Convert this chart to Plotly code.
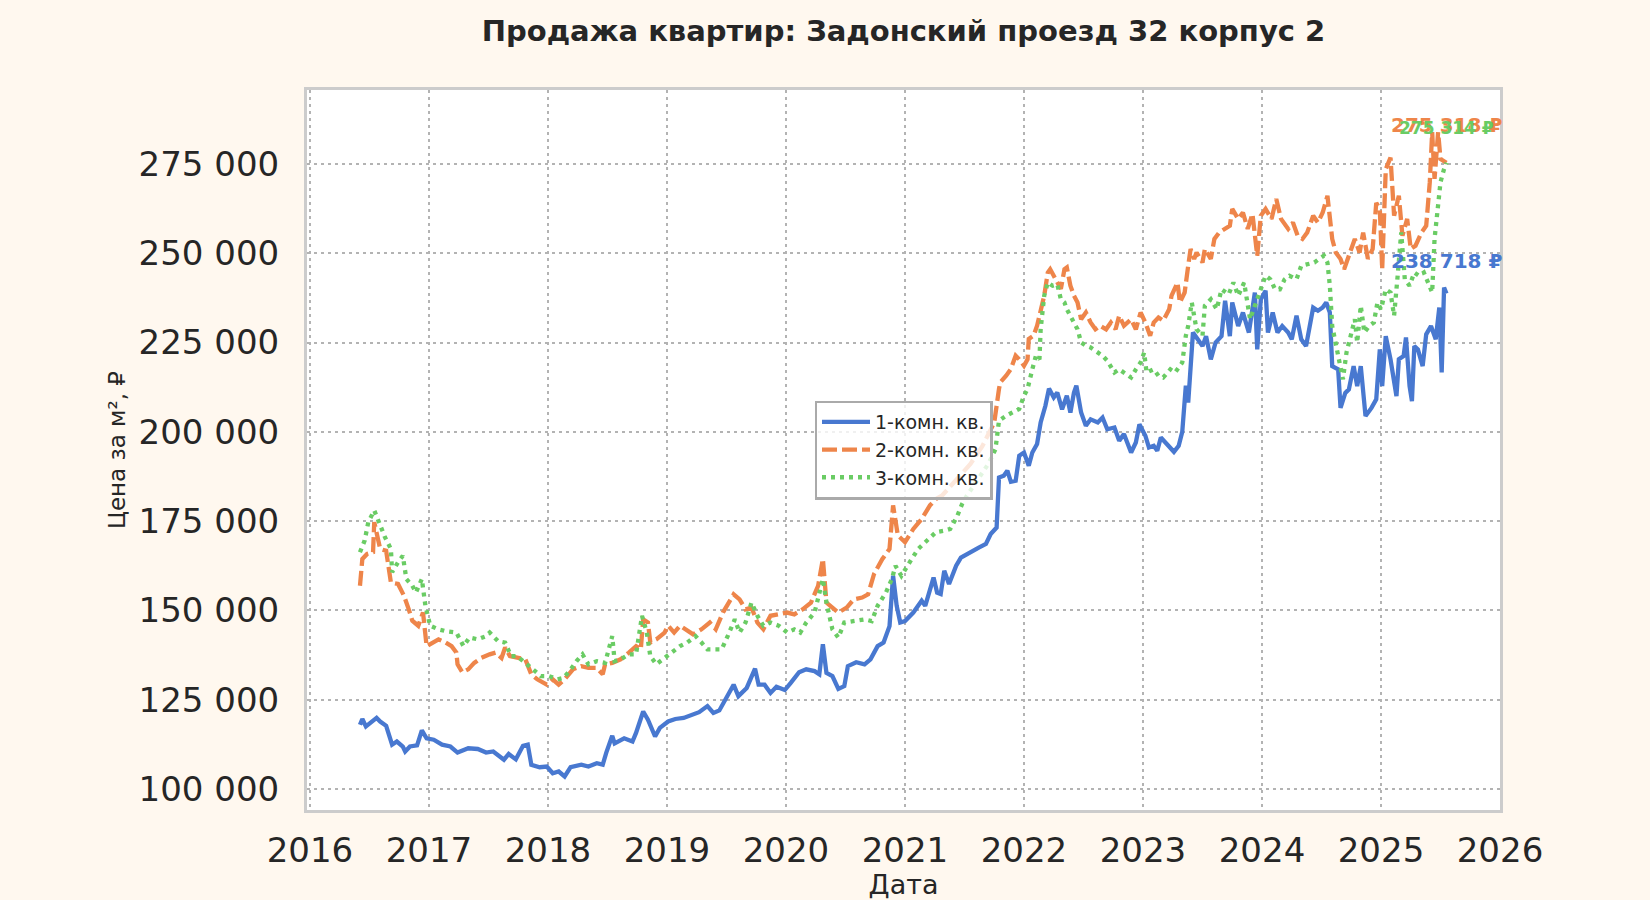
import plotly.graph_objects as go

# ---------------- data (decimal years, price per m²) ----------------
series_names = ["1-комн. кв.", "2-комн. кв.", "3-комн. кв."]

x1 = [2016.42, 2016.44, 2016.47, 2016.51, 2016.56, 2016.59, 2016.64, 2016.69, 2016.73, 2016.78,
      2016.80, 2016.84, 2016.90, 2016.94, 2016.98, 2017.04, 2017.11, 2017.18, 2017.24, 2017.33,
      2017.41, 2017.48, 2017.54, 2017.63, 2017.67, 2017.73, 2017.79, 2017.83, 2017.86, 2017.93,
      2017.99, 2018.04, 2018.09, 2018.14, 2018.19, 2018.28, 2018.34, 2018.41, 2018.46, 2018.49,
      2018.54, 2018.56, 2018.64, 2018.71, 2018.74, 2018.80, 2018.84, 2018.90, 2018.94, 2019.01,
      2019.07, 2019.14, 2019.22, 2019.27, 2019.34, 2019.39, 2019.44, 2019.49, 2019.56, 2019.60,
      2019.67, 2019.74, 2019.77, 2019.82, 2019.87, 2019.92, 2019.99, 2020.04, 2020.11, 2020.17,
      2020.24, 2020.28, 2020.31, 2020.34, 2020.39, 2020.44, 2020.49, 2020.52, 2020.59, 2020.66,
      2020.71, 2020.77, 2020.82, 2020.87, 2020.90, 2020.93, 2020.96, 2021.00, 2021.07, 2021.14,
      2021.17, 2021.24, 2021.27, 2021.30, 2021.33, 2021.37, 2021.43, 2021.47, 2021.52, 2021.58,
      2021.62, 2021.68, 2021.72, 2021.77, 2021.79, 2021.83, 2021.86, 2021.89, 2021.93, 2021.96,
      2022.00, 2022.04, 2022.07, 2022.11, 2022.14, 2022.18, 2022.21, 2022.25, 2022.28, 2022.32,
      2022.36, 2022.39, 2022.42, 2022.44, 2022.48, 2022.52, 2022.56, 2022.62, 2022.66, 2022.70,
      2022.76, 2022.80, 2022.84, 2022.90, 2022.94, 2022.97, 2023.02, 2023.05, 2023.09, 2023.12,
      2023.15, 2023.20, 2023.26, 2023.30, 2023.33, 2023.36, 2023.38, 2023.42, 2023.46, 2023.50,
      2023.53, 2023.57, 2023.61, 2023.66, 2023.69, 2023.73, 2023.75, 2023.80, 2023.84, 2023.87,
      2023.89, 2023.94, 2023.96, 2023.99, 2024.03, 2024.05, 2024.09, 2024.13, 2024.17, 2024.22,
      2024.25, 2024.29, 2024.33, 2024.37, 2024.43, 2024.47, 2024.51, 2024.54, 2024.57, 2024.59,
      2024.64, 2024.66, 2024.70, 2024.73, 2024.77, 2024.80, 2024.83, 2024.87, 2024.92, 2024.96,
      2024.99, 2025.01, 2025.04, 2025.08, 2025.13, 2025.15, 2025.19, 2025.21, 2025.24, 2025.26,
      2025.28, 2025.31, 2025.35, 2025.38, 2025.42, 2025.46, 2025.49, 2025.51, 2025.53, 2025.55]
y1 = [118000, 119600, 117500, 118700, 119900, 118900, 117700, 112400, 113300, 111900,
      110500, 111900, 112200, 116400, 114200, 113800, 112400, 111900, 110200, 111400,
      111200, 110200, 110500, 108200, 109800, 108300, 112100, 112400, 106800, 106100,
      106300, 104400, 104900, 103500, 106100, 106800, 106300, 107200, 106800, 110200,
      114900, 112800, 114200, 113300, 115700, 121700, 119400, 114700, 117100, 118900,
      119600, 119900, 120800, 121500, 123200, 121300, 122000, 125200, 129200, 126000,
      128300, 133700, 129200, 129200, 126900, 128600, 127700, 129700, 132700, 133500,
      133000, 132100, 140500, 132500, 131600, 128000, 128800, 134400, 135500, 134900,
      136300, 140000, 141000, 145600, 159700, 151300, 146600, 147000, 149400, 152700,
      151300, 159200, 155000, 154600, 161100, 157400, 162500, 164800, 165800, 166700,
      167600, 168600, 171400, 173200, 187200, 187700, 189100, 186000, 186300, 193300,
      194200, 190500, 194200, 196600, 202600, 207300, 212100, 209600, 211000, 206300,
      210100, 205400, 211000, 212900, 205400, 201700, 203500, 202600, 204000, 200700,
      201200, 197500, 199400, 194200, 197000, 202100, 198900, 195600, 196100, 194700,
      198400, 196600, 194400, 196100, 200000, 212900, 208200, 227800, 225900, 224000,
      226800, 220300, 225000, 226800, 236700, 226800, 236200, 229600, 233400, 229600,
      227800, 239000, 223100, 237100, 239500, 227800, 233400, 227800, 229600, 227800,
      225900, 232500, 225900, 224000, 234800, 233900, 234800, 236200, 233400, 218400,
      217500, 206700, 210900, 211900, 218400, 212800, 218400, 204400, 206700, 209100,
      223100, 212800, 226800, 220300, 210000, 220300, 221200, 226400, 212800, 208600,
      224000, 223100, 218400, 227300, 229600, 225900, 234800, 216600, 240400, 238718]

x2 = [2016.42, 2016.44, 2016.48, 2016.53, 2016.54, 2016.56, 2016.59, 2016.64, 2016.68, 2016.74,
      2016.79, 2016.83, 2016.86, 2016.91, 2016.95, 2016.98, 2017.03, 2017.08, 2017.14, 2017.19,
      2017.23, 2017.24, 2017.28, 2017.33, 2017.38, 2017.44, 2017.51, 2017.56, 2017.61, 2017.64,
      2017.68, 2017.74, 2017.81, 2017.86, 2017.91, 2017.99, 2018.04, 2018.09, 2018.14, 2018.21,
      2018.28, 2018.34, 2018.41, 2018.46, 2018.48, 2018.54, 2018.61, 2018.68, 2018.74, 2018.78,
      2018.80, 2018.84, 2018.86, 2018.91, 2018.98, 2019.01, 2019.06, 2019.11, 2019.16, 2019.22,
      2019.29, 2019.36, 2019.41, 2019.47, 2019.56, 2019.61, 2019.66, 2019.71, 2019.76, 2019.81,
      2019.87, 2019.94, 2020.01, 2020.07, 2020.14, 2020.21, 2020.27, 2020.31, 2020.34, 2020.39,
      2020.44, 2020.51, 2020.57, 2020.64, 2020.69, 2020.74, 2020.81, 2020.87, 2020.90, 2020.94,
      2021.00, 2021.07, 2021.14, 2021.21, 2021.26, 2021.31, 2021.36, 2021.45, 2021.55, 2021.65,
      2021.75, 2021.79, 2021.80, 2021.85, 2021.89, 2021.93, 2021.96, 2022.00, 2022.03, 2022.04,
      2022.08, 2022.11, 2022.14, 2022.17, 2022.20, 2022.22, 2022.25, 2022.28, 2022.31, 2022.34,
      2022.36, 2022.39, 2022.42, 2022.45, 2022.48, 2022.52, 2022.56, 2022.60, 2022.64, 2022.69,
      2022.73, 2022.77, 2022.80, 2022.84, 2022.90, 2022.94, 2022.98, 2023.02, 2023.06, 2023.09,
      2023.13, 2023.17, 2023.22, 2023.24, 2023.29, 2023.31, 2023.35, 2023.38, 2023.40, 2023.43,
      2023.45, 2023.50, 2023.52, 2023.57, 2023.60, 2023.64, 2023.68, 2023.73, 2023.75, 2023.80,
      2023.84, 2023.88, 2023.92, 2023.96, 2023.99, 2024.03, 2024.08, 2024.12, 2024.16, 2024.22,
      2024.26, 2024.30, 2024.34, 2024.38, 2024.43, 2024.47, 2024.51, 2024.55, 2024.59, 2024.62,
      2024.66, 2024.69, 2024.73, 2024.78, 2024.82, 2024.85, 2024.89, 2024.93, 2024.96, 2024.99,
      2025.01, 2025.04, 2025.08, 2025.11, 2025.15, 2025.18, 2025.22, 2025.25, 2025.29, 2025.34,
      2025.38, 2025.41, 2025.43, 2025.45, 2025.48, 2025.50, 2025.55]
y2 = [156900, 164400, 165800, 166300, 174700, 171400, 167200, 166700, 157800, 157400,
      154100, 150300, 147100, 145700, 149400, 140000, 141000, 141900, 141000, 140000,
      138200, 134900, 132700, 133500, 135300, 136700, 137700, 138200, 136700, 139600,
      137200, 136700, 136300, 132100, 130700, 129200, 130700, 129200, 130700, 133500,
      134400, 133900, 133900, 132100, 134900, 135300, 136300, 138200, 140000, 139100,
      147500, 146600, 141000, 141900, 143800, 145700, 143800, 145700, 144700, 143300,
      144700, 146600, 144700, 149400, 154500, 153100, 150300, 150800, 146600, 144700,
      148500, 148900, 149400, 148900, 150300, 152200, 156900, 164400, 152200, 150800,
      149400, 150800, 153100, 153600, 154500, 160200, 164400, 167200, 179400, 171000,
      169100, 172800, 175600, 179400, 181200, 182100, 184000, 187000, 191000, 196000,
      202600, 212000, 213800, 215700, 217600, 221300, 220300, 218500, 220300, 226000,
      226900, 229700, 234300, 238100, 244600, 245500, 243700, 241800, 240000, 245500,
      246000, 240900, 238100, 236200, 231500, 233400, 230600, 228700, 229700, 228700,
      230600, 228700, 232500, 229700, 231500, 228700, 233400, 230600, 226900, 230600,
      232000, 231100, 234300, 238100, 241800, 236200, 239000, 246500, 251200, 248400,
      250200, 247400, 251200, 248400, 254000, 255800, 256800, 257700, 262400, 259600,
      261400, 256800, 261000, 249300, 260500, 262400, 259600, 265200, 259600, 256800,
      258600, 254900, 254000, 255800, 260500, 258600, 261400, 266100, 254000, 250200,
      248400, 245500, 249300, 254000, 250200, 255800, 248400, 251200, 264100, 262400,
      245500, 273500, 276800, 260500, 266100, 254900, 259600, 251200, 252100, 255800,
      257700, 269900, 283900, 270800, 283900, 276400, 275318]

x3 = [2016.42, 2016.46, 2016.49, 2016.54, 2016.58, 2016.63, 2016.68, 2016.69, 2016.74, 2016.78,
      2016.81, 2016.86, 2016.89, 2016.94, 2016.97, 2017.01, 2017.08, 2017.14, 2017.23, 2017.29,
      2017.34, 2017.41, 2017.48, 2017.51, 2017.58, 2017.64, 2017.69, 2017.74, 2017.81, 2017.88,
      2017.94, 2018.01, 2018.08, 2018.13, 2018.18, 2018.24, 2018.29, 2018.34, 2018.41, 2018.48,
      2018.54, 2018.56, 2018.61, 2018.68, 2018.74, 2018.79, 2018.83, 2018.86, 2018.91, 2018.98,
      2019.04, 2019.11, 2019.17, 2019.24, 2019.29, 2019.34, 2019.41, 2019.46, 2019.51, 2019.57,
      2019.61, 2019.66, 2019.71, 2019.76, 2019.81, 2019.87, 2019.94, 2020.01, 2020.07, 2020.12,
      2020.17, 2020.24, 2020.31, 2020.34, 2020.39, 2020.44, 2020.49, 2020.57, 2020.66, 2020.72,
      2020.77, 2020.84, 2020.89, 2020.92, 2020.97, 2021.04, 2021.11, 2021.17, 2021.26, 2021.33,
      2021.38, 2021.44, 2021.48, 2021.52, 2021.62, 2021.70, 2021.76, 2021.79, 2021.85, 2021.90,
      2021.96, 2022.00, 2022.03, 2022.07, 2022.10, 2022.13, 2022.14, 2022.17, 2022.20, 2022.24,
      2022.28, 2022.31, 2022.34, 2022.36, 2022.39, 2022.42, 2022.45, 2022.48, 2022.52, 2022.56,
      2022.62, 2022.66, 2022.70, 2022.76, 2022.80, 2022.84, 2022.90, 2022.94, 2022.98, 2023.01,
      2023.03, 2023.09, 2023.13, 2023.17, 2023.23, 2023.27, 2023.33, 2023.36, 2023.38, 2023.41,
      2023.45, 2023.50, 2023.52, 2023.57, 2023.62, 2023.66, 2023.72, 2023.76, 2023.80, 2023.85,
      2023.90, 2023.94, 2023.99, 2024.03, 2024.07, 2024.11, 2024.15, 2024.19, 2024.23, 2024.29,
      2024.33, 2024.38, 2024.44, 2024.48, 2024.52, 2024.55, 2024.57, 2024.59, 2024.62, 2024.65,
      2024.68, 2024.71, 2024.75, 2024.78, 2024.80, 2024.83, 2024.86, 2024.90, 2024.94, 2024.97,
      2025.00, 2025.04, 2025.08, 2025.11, 2025.14, 2025.17, 2025.20, 2025.24, 2025.28, 2025.32,
      2025.36, 2025.41, 2025.43, 2025.45, 2025.48, 2025.50, 2025.53, 2025.55]
y3 = [166300, 169600, 174700, 178000, 174700, 170500, 167200, 160700, 163500, 165300,
      158800, 156900, 155000, 158800, 151300, 145700, 144700, 144200, 143800, 140000,
      142400, 141900, 142800, 143800, 141400, 141000, 137200, 137200, 135300, 133500,
      131600, 131600, 130700, 131100, 133000, 135800, 137700, 134900, 135800, 135300,
      142800, 135800, 136300, 137700, 137700, 148500, 143800, 137200, 134900, 136700,
      138200, 140000, 141000, 142800, 141000, 139100, 139100, 139100, 142800, 147500,
      143800, 146600, 152200, 148500, 145700, 146600, 145700, 143800, 144700, 143800,
      146600, 149400, 158800, 152200, 144700, 142400, 146600, 147000, 147500, 147000,
      151300, 155000, 158800, 162500, 159700, 163500, 167200, 169100, 171900, 172300,
      172800, 176500, 179800, 182100, 187000, 191000, 195100, 203100, 204500, 205400,
      206400, 210100, 212000, 217500, 221300, 220300, 228700, 238100, 241800, 240900,
      241300, 237100, 236200, 234300, 232500, 231100, 228700, 225000, 224100, 223600,
      222200, 221300, 219900, 216600, 217500, 216600, 215200, 217500, 219400, 222200,
      216600, 217500, 215700, 215200, 217500, 216600, 219400, 226900, 229700, 236200,
      228700, 226900, 235300, 237100, 234300, 239900, 238500, 241800, 238100, 241800,
      231500, 235300, 240400, 243700, 242700, 239900, 239900, 242700, 243700, 242700,
      246500, 246900, 247400, 248400, 249300, 247400, 240900, 229600, 225000, 219400,
      214700, 222200, 227800, 231500, 225000, 235300, 227800, 229600, 230600, 236200,
      234300, 239900, 239000, 232500, 243700, 255800, 242700, 240900, 244600, 243700,
      244600, 240900, 239000, 254000, 265200, 269900, 273600, 275314]

year_ticks = [2016, 2017, 2018, 2019, 2020, 2021, 2022, 2023, 2024, 2025, 2026]
price_ticks = [100000, 125000, 150000, 175000, 200000, 225000, 250000, 275000]
price_tick_labels = ["100 000", "125 000", "150 000", "175 000", "200 000",
                     "225 000", "250 000", "275 000"]

# ---------------- styling ----------------
BG = "#FFF8EF"
colors = ["#4878D0", "#EE854A", "#6ACC64"]
dashes = ["solid", "15px,5px", "4px,5px"]
label_sizes = [20, 20, 17]
label_shifts = [33, 38, 35]
FONT = "DejaVu Sans"
TXT = "#262626"

fig = go.Figure()
xs_all = [x1, x2, x3]
ys_all = [y1, y2, y3]
for name, xs, ys, c, d in zip(series_names, xs_all, ys_all, colors, dashes):
    fig.add_trace(go.Scatter(x=xs, y=ys, mode="lines", name=name,
                             line=dict(color=c, width=4.3, dash=d)))

for xs, ys, c, fs, sh in zip(xs_all, ys_all, colors, label_sizes, label_shifts):
    label = f"{ys[-1]:,.0f}".replace(",", " ") + " ₽"
    fig.add_annotation(x=xs[-1], y=ys[-1], text=f"<b>{label}</b>", showarrow=False,
                       xanchor="center", yanchor="middle", yshift=sh,
                       font=dict(family=FONT, size=fs, color=c))

axis_common = dict(
    showgrid=True, gridcolor="#B3B3B3", gridwidth=2.2, griddash="2.5px,4.5px",
    showline=True, linecolor="#CCCCCC", linewidth=3, mirror=True,
    zeroline=False, ticks="", automargin=False,
    tickfont=dict(family=FONT, size=34, color=TXT),
)

fig.update_layout(
    width=1650, height=900,
    margin=dict(l=307, r=150, t=90, b=90),
    paper_bgcolor=BG, plot_bgcolor="#FFFFFF",
    title=dict(text="<b>Продажа квартир: Задонский проезд 32 корпус 2</b>",
               x=0.5, xref="paper", xanchor="center",
               y=1 - 30.5 / 900, yref="container", yanchor="middle",
               font=dict(family=FONT, size=29, color=TXT)),
    xaxis=dict(range=[2015.975, 2026.0], tickvals=year_ticks,
               ticktext=[str(v) for v in year_ticks],
               title=dict(text="Дата", font=dict(family=FONT, size=27, color=TXT), standoff=16),
               ticklabelstandoff=8, **axis_common),
    yaxis=dict(range=[94120, 295700], tickvals=price_ticks, ticktext=price_tick_labels,
               title=dict(text="Цена за м², ₽", font=dict(family=FONT, size=23, color=TXT), standoff=7),
               ticklabelstandoff=18, **axis_common),
    legend=dict(x=0.5, y=0.5, xanchor="center", yanchor="middle",
                bgcolor="rgba(255,255,255,0.8)", bordercolor="#AAAAAA", borderwidth=2.5,
                itemwidth=48,
                font=dict(family=FONT, size=19, color=TXT)),
    showlegend=True,
)

page_fix = ("document.body.style.margin='0';document.body.style.padding='0';"
            "document.body.style.overflow='hidden';document.body.style.background='" + BG + "';"
            "document.documentElement.style.background='" + BG + "';")
fig.write_html("out.html", post_script=page_fix, config={"displayModeBar": False})
